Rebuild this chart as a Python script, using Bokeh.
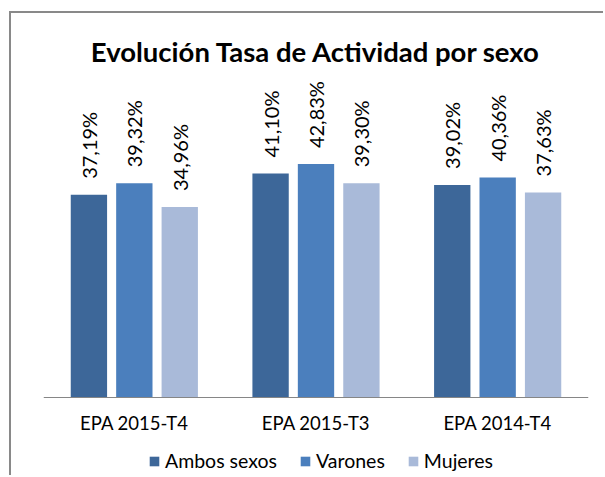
from math import pi
from bokeh.plotting import figure
from bokeh.models import ColumnDataSource, FactorRange, Range1d, Legend, LegendItem
from bokeh.transform import dodge
from bokeh.core.properties import value
from bokeh.embed import file_html
from bokeh.resources import INLINE

categories = ["EPA 2015-T4", "EPA 2015-T3", "EPA 2014-T4"]
series_names = ["Ambos sexos", "Varones", "Mujeres"]
ambos = [37.19, 41.10, 39.02]
varones = [39.32, 42.83, 40.36]
mujeres = [34.96, 39.30, 37.63]
colors = ["#3D6799", "#4B7FBD", "#A9BAD9"]

FONT = "Lato"

p = figure(x_range=FactorRange(*categories, range_padding=0), y_range=Range1d(-14.65, 60),
           width=594, height=464, output_backend="svg", toolbar_location=None,
           min_border_left=32, min_border_right=17, min_border_top=57, min_border_bottom=0)
p.title.text = "Evolución Tasa de Actividad por sexo"
p.title.align = "center"
p.title.text_font = FONT
p.title.text_font_size = "27.5px"
p.title.text_font_style = "bold"
p.title.text_color = "#000000"
p.title.standoff = 6

p.outline_line_color = None
p.grid.visible = False
p.yaxis.visible = False
p.xaxis.fixed_location = 0
p.xaxis.axis_line_color = "#868686"
p.xaxis.major_tick_line_color = None
p.xaxis.minor_tick_line_color = None
p.xaxis.major_label_text_font = FONT
p.xaxis.major_label_text_font_size = "18.5px"
p.xaxis.major_label_text_color = "#000000"
p.xaxis.major_label_standoff = 8

offsets = [-0.25, 0.0, 0.25]
items = []
for name, vals, col, off in zip(series_names, [ambos, varones, mujeres], colors, offsets):
    src = ColumnDataSource(dict(cat=categories, val=vals,
                                lab=[f"{v:.2f}".replace(".", ",") + "%" for v in vals]))
    r = p.vbar(x=dodge("cat", off, range=p.x_range), top="val", width=0.2, source=src,
               fill_color=col, line_color=None)
    p.text(x=dodge("cat", off, range=p.x_range), y="val", text="lab", source=src,
           angle=pi / 2, text_align="left", text_baseline="middle", y_offset=-16,
           text_font=value(FONT), text_font_size="20px", text_color="#000000")
    items.append(LegendItem(label=name, renderers=[r]))

legend = Legend(items=items, orientation="horizontal", location=(105, 5),
                glyph_width=12, glyph_height=12, label_standoff=5, spacing=22,
                label_text_font=FONT, label_text_font_size="19.5px", label_text_color="#000000",
                border_line_color=None, background_fill_alpha=0, padding=0, margin=0)
p.add_layout(legend)

p.margin = (11, 0, 0, 9)
p.styles = {"border-top": "2px solid #898989", "border-left": "2px solid #898989"}

open("out.html", "w").write(file_html(p, INLINE))
